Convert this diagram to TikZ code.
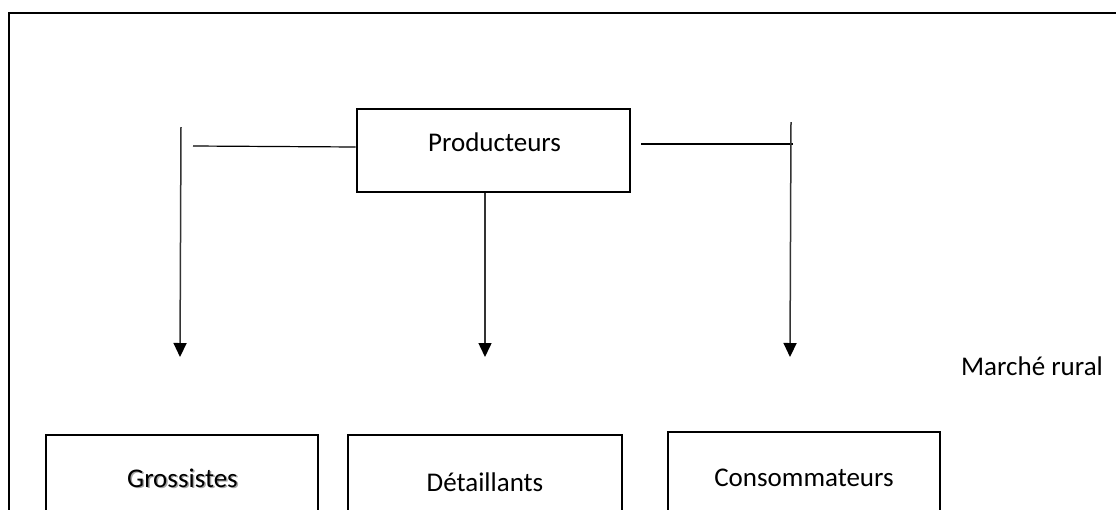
\documentclass[tikz,border=0pt]{standalone}
\usepackage{fontspec}
\setmainfont{Carlito}
\usetikzlibrary{arrows.meta}
\begin{document}
\begin{tikzpicture}[x=1pt,y=-1pt,
  label font/.style={font=\fontsize{27}{30}\selectfont},
  box/.style={draw=black,line width=2.6pt,minimum width=#1,inner sep=0pt,label font},
  link/.style={line width=1.2pt},
  flow/.style={line width=1.5pt,draw=black!80,-{Triangle[width=13pt,length=14pt,black]}}]
  \useasboundingbox (0,0) rectangle (1116,509);
  \clip (0,0) rectangle (1116,509);
  % outer frame (left and top edges)
  \draw[line width=2.6pt] (9,520) -- (9,13) -- (1130,13);
  % producers
  \node[box=273pt,minimum height=83pt] (prod) at (493.5,150.5) {};
  \node[label font] (prodtxt) at (494.5,142) {Producteurs};
  % recipients
  \node[label font,text=black!35] (grosshadow) at (184,479.5) {Grossistes};
  \node[box=272pt,minimum height=97pt] (gros) at (182,483.5) {};
  \node[label font] (grostxt) at (182.5,478) {Grossistes};
  \node[box=274pt,minimum height=94pt] (det) at (485,482) {Détaillants};
  \node[box=272pt,minimum height=92pt] (cons) at (804,478) {Consommateurs};
  \node[label font] (rural) at (1032,366) {Marché rural};
  % connector ends
  \coordinate (l0) at (181,127);
  \coordinate (l1) at (180,357);
  \coordinate (r0) at (791,122);
  \coordinate (r1) at (790,357);
  \coordinate (m1) at (485,357);
  \coordinate (lh) at (193,146);
  \coordinate (rh) at (793,144);
  \draw[link] (lh) -- (prod.west |- 0,147);
  \draw[link] ([xshift=10pt]prod.east |- 0,144) -- (rh);
  \draw[flow] (l0) -- (l1);
  \draw[flow] (prod.south -| m1) -- (m1);
  \draw[flow] (r0) -- (r1);
\end{tikzpicture}
\end{document}
